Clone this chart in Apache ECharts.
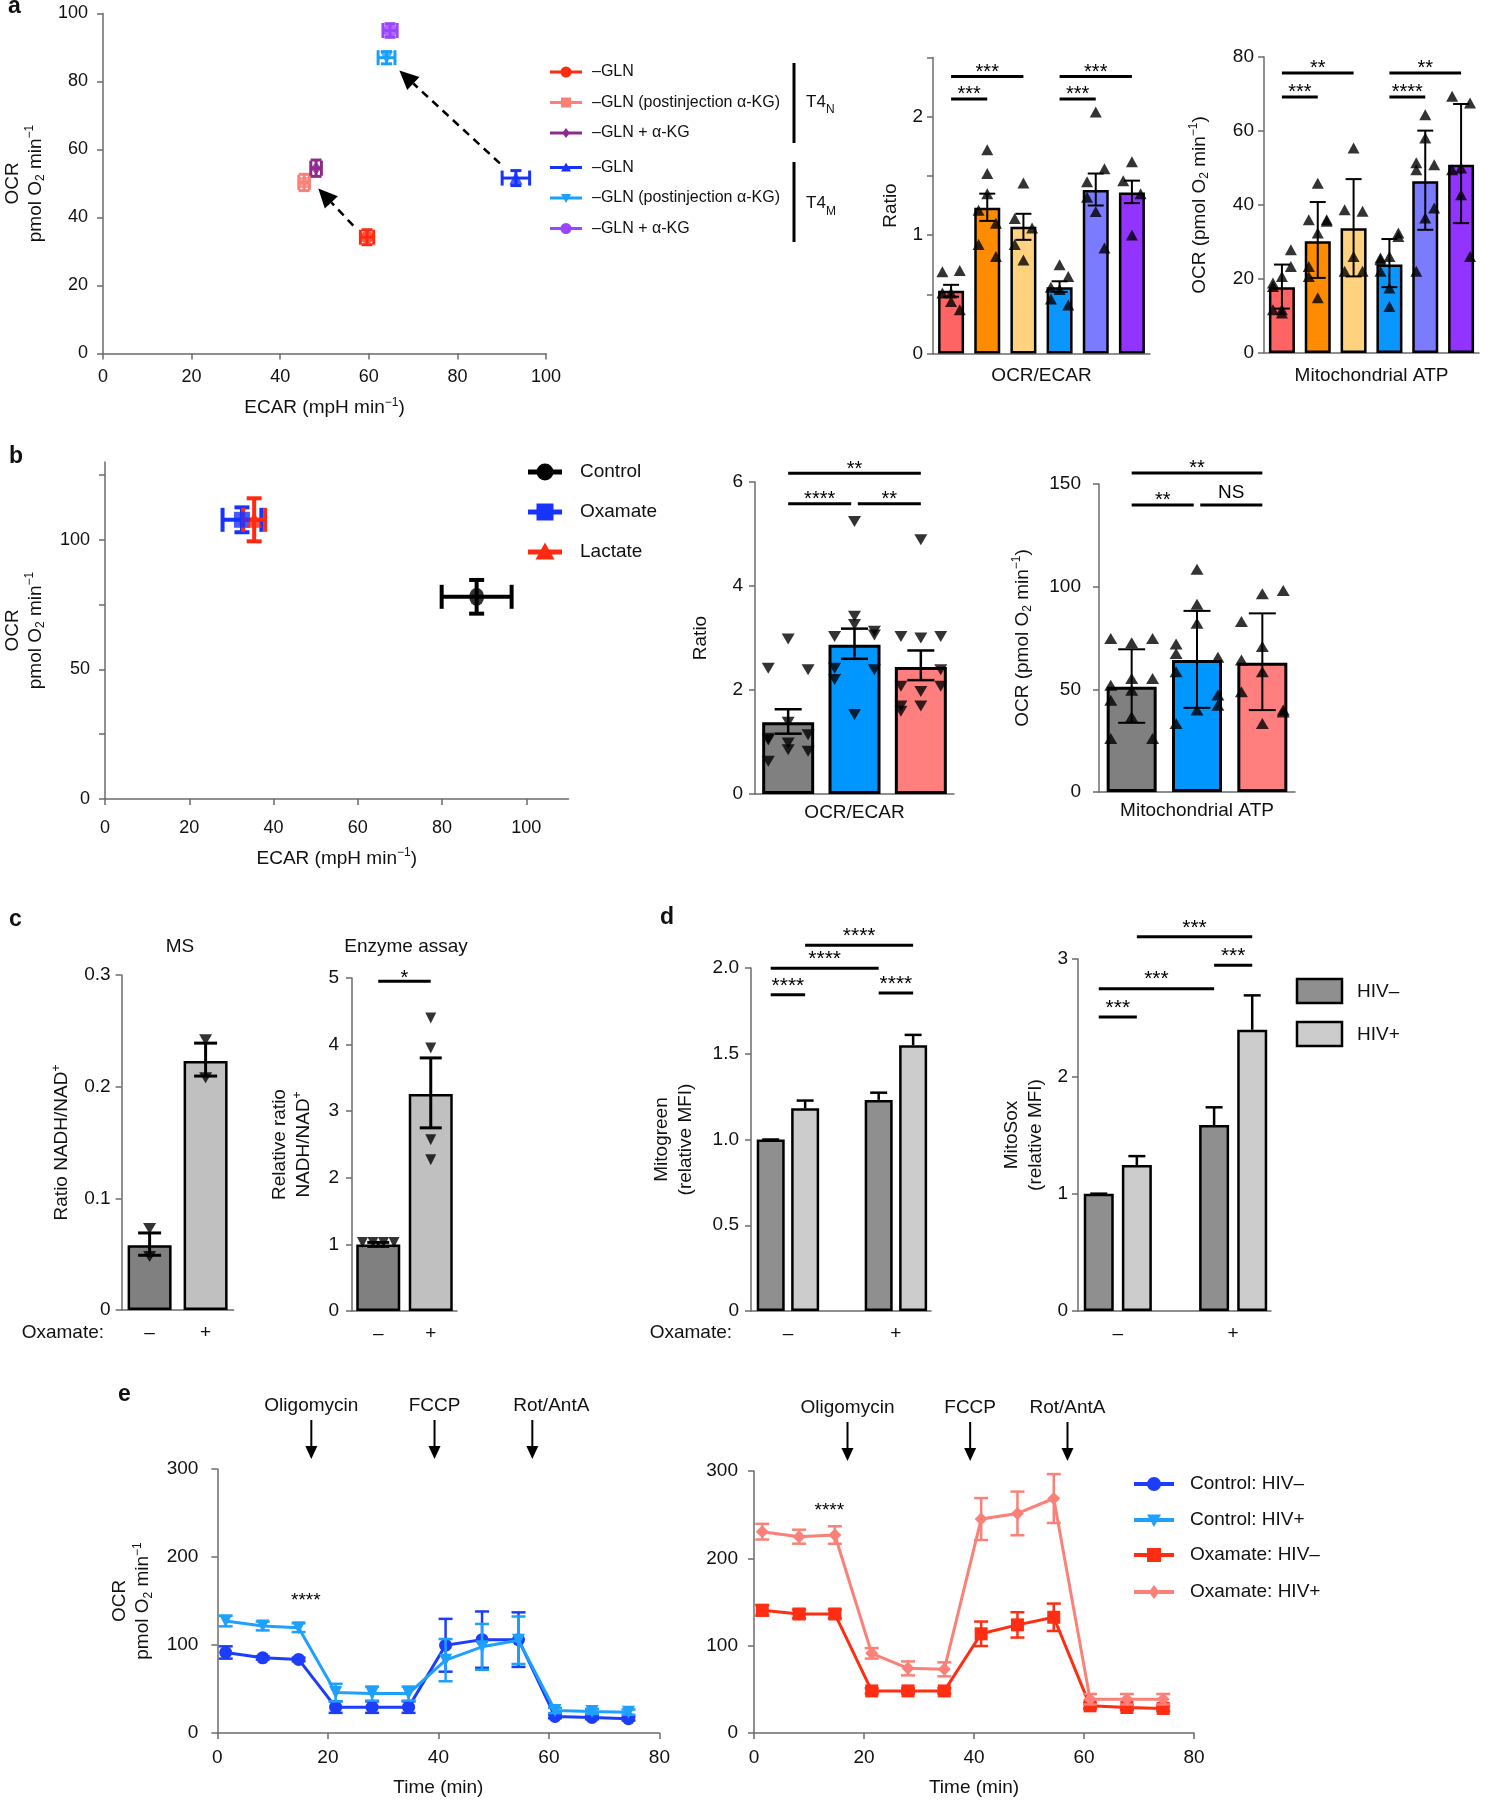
<!DOCTYPE html>
<html><head><meta charset="utf-8">
<script src="https://cdn.jsdelivr.net/npm/echarts@6/dist/echarts.min.js"></script>
<style>html,body{margin:0;padding:0;background:#fff}#c{width:1489px;height:1800px}</style>
</head><body><div id="c"></div>
<script>
// ================= DATA =================
// Panel a – scatter (OCR vs ECAR)
const aGroupLabels = ['–GLN','–GLN (postinjection α-KG)','–GLN + α-KG','–GLN','–GLN (postinjection α-KG)','–GLN + α-KG'];
const aCellTypes = ['T4', 'N', 'T4', 'M'];
const aEcar    = [59.6, 45.4, 48.1, 93.2, 64.0, 64.8];
const aEcarErr = [1.5, 1.2, 1.2, 3.1, 1.9, 1.6];
const aOcr     = [34.2, 50.3, 54.5, 51.6, 87.0, 95.0];
const aOcrErr  = [2.2, 2.4, 2.4, 2.2, 1.8, 2.0];
const aShiftFrom = [[56.5, 37.6], [89.6, 55.9]];
const aShiftTo   = [[48.6, 48.5], [66.9, 83.2]];
// Panel a – OCR/ECAR ratio bars
const aRatioMean = [0.53, 1.23, 1.07, 0.56, 1.38, 1.36];
const aRatioLow  = [0.48, 1.12, 0.96, 0.52, 1.25, 1.27];
const aRatioHigh = [0.58, 1.35, 1.18, 0.61, 1.52, 1.46];
const aRatioPoints = [[0.51,0.69,0.70,0.44,0.51,0.37],[1.72,1.21,1.10,1.52,0.92,0.82,1.35],[1.44,1.14,1.06,0.79,0.92],[0.75,0.56,0.65,0.54,0.46,0.41],[2.04,1.45,1.56,1.20,1.32,0.89],[1.62,1.46,1.35,1.00]];
const aRatioSig = [[0,2,2.34,'***'],[0,1,2.15,'***'],[3,5,2.34,'***'],[3,4,2.15,'***']];
// Panel a – Mitochondrial ATP bars
const aAtpMean = [17.8, 30.2, 33.7, 23.9, 46.4, 50.9];
const aAtpLow  = [12.0, 20.3, 20.7, 17.8, 33.3, 35.1];
const aAtpHigh = [23.9, 40.8, 47.0, 30.8, 60.1, 67.3];
const aAtpPoints = [[20.7,18.9,27.9,11.7,18.0,23.4,10.8,11.7],[45.9,36.0,35.6,32.4,20.7,36.0,14.9,23.4],[55.4,38.7,38.3,26.1,22.1,22.1],[26.1,25.7,31.5,17.6,25.2,32.4,12.6,22.1],[64.4,51.4,50.9,58.1,22.1,39.2,36.5,49.5],[50.0,69.4,67.6,42.8,49.5,26.1]];
const aAtpSig = [[0,2,75.7,'**'],[0,1,69.2,'***'],[3,5,75.7,'**'],[3,4,69.2,'****']];

// Panel b – scatter
const bGroups   = ['Control', 'Oxamate', 'Lactate'];
const bEcar     = [88.2, 32.5, 35.4];
const bEcarErr  = [8.3, 4.6, 2.6];
const bOcr      = [78.0, 107.7, 107.7];
const bOcrErr   = [6.5, 4.8, 8.3];
// Panel b – bars
const bRatioMean = [1.38, 2.87, 2.44];
const bRatioLow  = [1.16, 2.60, 2.19];
const bRatioHigh = [1.63, 3.18, 2.76];
const bRatioPoints = [[2.98,2.42,2.39,1.38,1.07,1.14,0.85,1.04,0.82,0.98,0.63],[5.24,3.03,3.13,3.42,2.42,3.06,3.26,2.20,2.39,1.53],[4.89,3.03,3.03,3.00,2.07,2.39,1.97,1.69,2.07,1.69,1.59]];
const bRatioSig = [[0,2,6.17,'**'],[0,0.95,5.58,'****'],[1.05,2,5.58,'**']];
const bAtpMean = [51.2, 64.3, 63.0];
const bAtpLow  = [33.7, 41.0, 39.9];
const bAtpHigh = [69.5, 88.2, 87.0];
const bAtpPoints = [[72.7,74.8,74.8,55.3,52.0,55.3,49.6,44.7,26.0,36.6,26.0],[108.5,72.1,65.6,91.4,67.5,42.3,82.2,58.6,47.2,39.9,33.4],[96.5,83.0,98.1,70.8,64.3,39.9,58.6,48.8,39.0,33.4]];
const bAtpSig = [[0,2,155.4,'**'],[0,0.95,139.8,'**'],[1.05,2,139.8,'NS']];

// Panel c
const cOxamate = ['–', '+'];
const cMsMean = [0.058, 0.223];
const cMsLow  = [0.049, 0.2095];
const cMsHigh = [0.069, 0.239];
const cMsPoints = [[0.073, 0.048], [0.242, 0.208]];
const cEnzMean = [1.0, 3.26];
const cEnzLow  = [0.97, 2.75];
const cEnzHigh = [1.03, 3.80];
const cEnzPoints = [[1.03, 1.03, 1.03, 1.03], [4.40, 3.95, 2.57, 2.27]];
const cEnzSig = [[0, 1, 4.95, '*']];

// Panel d
const dOxamate = ['–', '+'];
const dSeries = ['HIV–', 'HIV+'];
const dMitoNeg = [1.0, 1.231];
const dMitoNegErr = [0, 0.042];
const dMitoPos = [1.182, 1.55];
const dMitoPosErr = [0.045, 0.06];
const dMitoSig = [[0,1,1.844,'****'],[2,3,1.854,'****'],[0,2,1.998,'****'],[1,3,2.132,'****']];
const dSoxNeg = [1.0, 1.585];
const dSoxNegErr = [0, 0.151];
const dSoxPos = [1.244, 2.397];
const dSoxPosErr = [0.076, 0.293];
const dSoxSig = [[0,1,2.505,'***'],[0,2,2.747,'***'],[2,3,2.946,'***'],[1,3,3.19,'***']];

// Panel e
const eTime = [1.5, 8.2, 14.7, 21.4, 28.0, 34.6, 41.3, 47.9, 54.5, 61.1, 67.8, 74.4];
const eCtlNeg    = [91.5, 85.4, 83.6, 29.4, 29.4, 29.4, 99.7, 106.1, 106.1, 18.8, 17.7, 16.2];
const eCtlNegErr = [7, 2, 2, 6.5, 6.5, 6.5, 30, 32, 31, 2, 2, 2];
const eCtlPos    = [127.2, 121.6, 119.7, 45.9, 44.8, 44.8, 82.8, 97.9, 105.4, 25.6, 24.5, 23.7];
const eCtlPosErr = [6, 5, 5, 10, 8, 8, 24, 26, 27, 3, 3, 3];
const eOxNeg     = [140.5, 136.3, 136.3, 48.2, 48.2, 48.2, 113.6, 123.8, 132.5, 31.1, 29.2, 28.1];
const eOxNegErr  = [6, 5, 5, 3, 3, 3, 14, 14.5, 15.7, 3, 3, 3];
const eOxPos     = [230.5, 224.8, 226.7, 91.2, 74.0, 72.9, 245.0, 251.4, 268.5, 38.7, 38.7, 38.7];
const eOxPosErr  = [9, 8, 10, 6, 8, 8, 24, 25, 28, 6, 6, 6];
const eSeriesNames = ['Control: HIV–', 'Control: HIV+', 'Oxamate: HIV–', 'Oxamate: HIV+'];
const eInjNames = ['Oligomycin', 'FCCP', 'Rot/AntA'];
const eInjTimes = [17, 39.3, 57];
const eSigLeft  = [[16, 150, '****']];
const eSigRight = [[13.7, 255, '****']];

// ================= STYLE =================
const FONT = "'Liberation Sans', Arial, Helvetica, sans-serif";
const AXC = '#6b6b6b';
const aColors = ['#ff2a12', '#fa8078', '#8e2a8c', '#1833ff', '#1a9fff', '#9a45ff'];
const aSymbols = ['circle', 'rect', 'diamond', 'triangle', 'triangle-down', 'circle'];
const aSymSize = [13, 11, 12, 13, 13, 14];
const aBarColors = ['#ff6464', '#ff8c00', '#ffd280', '#0a96ff', '#7b7bff', '#9333ff'];
const bColors = ['#000000', '#1833ff', '#ff2a12'];
const bSymbols = ['circle', 'rect', 'triangle'];
const bBarColors = ['#808080', '#0096ff', '#ff7f7f'];
const cBarColors = ['#808080', '#c0c0c0'];
const dBarColors = ['#8f8f8f', '#cccccc'];
const eColors = ['#1c3dfb', '#1ea0ff', '#ff2d12', '#fa8078'];
const eSymbols = ['circle', 'triangle-down', 'rect', 'diamond'];
const eLabelShiftLeft = [0, 0, 19];   // label offsets (px) above the injection arrows, left chart
const eLabelShiftRight = [0, 0, 0];

// ================= HELPERS =================
function merge(a, b) {
  const o = Object.assign({}, a);
  for (const k in b) {
    if (b[k] && typeof b[k] === 'object' && !Array.isArray(b[k]) && a[k] && typeof a[k] === 'object' && !Array.isArray(a[k])) o[k] = merge(a[k], b[k]);
    else o[k] = b[k];
  }
  return o;
}
function rich(fs) {
  const s = Math.round(fs * 0.62);
  return { sup: {fontSize: s, fontFamily: FONT, color: '#111', verticalAlign: 'top', lineHeight: s},
           sub: {fontSize: s, fontFamily: FONT, color: '#111', verticalAlign: 'bottom', lineHeight: s} };
}
function mkAxis(o, fs) {
  fs = fs || 19;
  return merge({
    type: 'value', splitLine: {show: false},
    axisLine: {show: true, onZero: false, lineStyle: {color: AXC, width: 1.5}},
    axisTick: {show: true, length: 6, lineStyle: {color: AXC, width: 1.5}},
    axisLabel: {color: '#111', fontSize: fs, fontFamily: FONT, margin: 10},
    nameLocation: 'middle',
    nameTextStyle: {color: '#111', fontSize: 19, fontFamily: FONT, lineHeight: 23, rich: rich(19)}
  }, o);
}
const grid = [], xAxis = [], yAxis = [], series = [], elements = [];
function addPanel(g, xa, ya) {
  const gi = grid.length;
  grid.push(g);
  xa.gridIndex = gi; ya.gridIndex = gi;
  xAxis.push(xa); yAxis.push(ya);
  return gi;
}
function symShape(type, cx, cy, s, color) {
  const h = s / 2;
  const st = {fill: color};
  if (type === 'circle') return {type: 'circle', shape: {cx, cy, r: h}, style: st, z: 100};
  if (type === 'rect') return {type: 'rect', shape: {x: cx - h, y: cy - h, width: s, height: s}, style: st, z: 100};
  if (type === 'diamond') return {type: 'polygon', shape: {points: [[cx, cy - h], [cx + h * 0.75, cy], [cx, cy + h], [cx - h * 0.75, cy]]}, style: st, z: 100};
  if (type === 'triangle') return {type: 'polygon', shape: {points: [[cx, cy - h], [cx + h, cy + h * 0.8], [cx - h, cy + h * 0.8]]}, style: st, z: 100};
  return {type: 'polygon', shape: {points: [[cx, cy + h], [cx + h, cy - h * 0.8], [cx - h, cy - h * 0.8]]}, style: st, z: 100};
}
function txt(text, x, y, o) {
  o = o || {};
  const al = o.align || 'left', va = o.va || 'middle';
  return {type: 'text', x, y, z: 100, style: {text, fill: o.color || '#111', fontSize: o.fs || 19, fontFamily: FONT,
    fontWeight: o.fw || 'normal', align: al, verticalAlign: va, textAlign: al, textVerticalAlign: va}};
}
function line(x1, y1, x2, y2, color, w) {
  return {type: 'line', z: 100, shape: {x1, y1, x2, y2}, style: {stroke: color || '#000', lineWidth: w || 3}};
}
function symbolOpt(type) {
  return type === 'triangle-down' ? {symbol: 'triangle', symbolRotate: 180} : {symbol: type, symbolRotate: 0};
}
function barSeries(gi, means, colors, bw, border) {
  return {type: 'bar', xAxisIndex: gi, yAxisIndex: gi, barWidth: bw, silent: true, z: 2,
    data: means.map((v, i) => ({value: [i, v], itemStyle: {color: colors[i], borderColor: '#000', borderWidth: border}}))};
}
function errSeries(gi, xs, lows, highs, o) {
  return {type: 'custom', xAxisIndex: gi, yAxisIndex: gi, z: o.z || 4, silent: true, clip: false,
    data: xs.map((x, i) => [x, lows[i], highs[i]]),
    encode: {x: 0, y: [1, 2]},
    renderItem(params, api) {
      const x = api.value(0);
      const t = api.coord([x, api.value(2)]), b = api.coord([x, api.value(1)]);
      const px = t[0] + (o.dx || 0), cw = o.cap / 2;
      const st = {stroke: o.color || '#000', lineWidth: o.width || 2};
      const ch = [{type: 'line', shape: {x1: px, y1: t[1], x2: px, y2: b[1]}, style: st},
                  {type: 'line', shape: {x1: px - cw, y1: t[1], x2: px + cw, y2: t[1]}, style: st}];
      if (!o.upperOnly) ch.push({type: 'line', shape: {x1: px - cw, y1: b[1], x2: px + cw, y2: b[1]}, style: st});
      return {type: 'group', children: ch};
    }};
}
function jitter(k, n, mode, s) {
  if (mode === 'center') return 0;
  if (mode === 'even') return n > 1 ? -s + 2 * s * k / (n - 1) : 0;
  return [0, -1, 1][k % 3] * s;
}
function pointsSeries(gi, groups, sym, size, modes, s) {
  const data = [];
  groups.forEach((vals, i) => vals.forEach((v, k) => data.push([i + jitter(k, vals.length, modes[i], s), v])));
  return Object.assign({type: 'scatter', xAxisIndex: gi, yAxisIndex: gi, symbolSize: size, silent: true, z: 6,
    itemStyle: {color: '#000'}, data}, symbolOpt(sym));
}
function bracketSeries(gi, sig, o) {
  return {type: 'custom', xAxisIndex: gi, yAxisIndex: gi, z: 5, silent: true, clip: false,
    data: sig.map(s => [s[0], s[1], s[2]]),
    encode: {x: [0, 1], y: 2},
    renderItem(params, api) {
      const y = api.value(2);
      const xOf = v => o.xOf ? o.xOf(v, y, api) : api.coord([v, y])[0];
      const x1 = xOf(api.value(0)), x2 = xOf(api.value(1));
      const py = api.coord([0, y])[1];
      const label = sig[params.dataIndex][3];
      const ns = label === 'NS';
      const fs = ns ? 19 : (o.fs || 19);
      return {type: 'group', children: [
        {type: 'line', shape: {x1: x1 - (o.ext || 0), y1: py, x2: x2 + (o.ext || 0), y2: py}, style: {stroke: '#000', lineWidth: o.lw || 3}},
        {type: 'text', x: (x1 + x2) / 2, y: py - (ns ? 12 : (o.off || 4)),
         style: {text: label, fill: '#000', fontSize: fs, fontFamily: FONT, align: 'center', verticalAlign: 'middle', textAlign: 'center', textVerticalAlign: 'middle'}}
      ]};
    }};
}
function xyErrSeries(gi, xs, ys, exs, eys, colors, o) {
  return {type: 'custom', xAxisIndex: gi, yAxisIndex: gi, z: 4, silent: true, clip: false,
    data: xs.map((x, i) => [x, ys[i], exs[i], eys[i]]),
    encode: {x: 0, y: 1},
    renderItem(params, api) {
      const x = api.value(0), y = api.value(1), ex = api.value(2), ey = api.value(3);
      const l = api.coord([x - ex, y]), r = api.coord([x + ex, y]);
      const t = api.coord([x, y + ey]), b = api.coord([x, y - ey]);
      const st = {stroke: colors[params.dataIndex], lineWidth: o.width};
      const hx = o.capX / 2, hy = o.capY / 2;
      return {type: 'group', children: [
        {type: 'line', shape: {x1: l[0], y1: l[1], x2: r[0], y2: r[1]}, style: st},
        {type: 'line', shape: {x1: l[0], y1: l[1] - hx, x2: l[0], y2: l[1] + hx}, style: st},
        {type: 'line', shape: {x1: r[0], y1: r[1] - hx, x2: r[0], y2: r[1] + hx}, style: st},
        {type: 'line', shape: {x1: t[0], y1: t[1], x2: b[0], y2: b[1]}, style: st},
        {type: 'line', shape: {x1: t[0] - hy, y1: t[1], x2: t[0] + hy, y2: t[1]}, style: st},
        {type: 'line', shape: {x1: b[0] - hy, y1: b[1], x2: b[0] + hy, y2: b[1]}, style: st}
      ]};
    }};
}
function arrowSeries(gi, from, to) {
  return {type: 'custom', xAxisIndex: gi, yAxisIndex: gi, z: 7, silent: true, clip: false,
    data: from.map((f, i) => [f[0], f[1], to[i][0], to[i][1]]),
    encode: {x: [0, 2], y: [1, 3]},
    renderItem(params, api) {
      const p1 = api.coord([api.value(0), api.value(1)]), p2 = api.coord([api.value(2), api.value(3)]);
      const dx = p2[0] - p1[0], dy = p2[1] - p1[1], L = Math.hypot(dx, dy);
      const ux = dx / L, uy = dy / L, hl = 19, hw = 9;
      const bx = p2[0] - ux * hl, by = p2[1] - uy * hl;
      return {type: 'group', children: [
        {type: 'line', shape: {x1: p1[0], y1: p1[1], x2: bx, y2: by}, style: {stroke: '#000', lineWidth: 2.5, lineDash: [8, 6]}},
        {type: 'polygon', shape: {points: [[p2[0], p2[1]], [bx - uy * hw, by + ux * hw], [bx + uy * hw, by - ux * hw]]}, style: {fill: '#000'}}
      ]};
    }};
}
function injSeries(gi, yTop, shifts) {
  return {type: 'custom', xAxisIndex: gi, yAxisIndex: gi, z: 7, silent: true, clip: false,
    data: eInjTimes.map(t => [t, yTop]), encode: {x: 0, y: 1},
    renderItem(params, api) {
      const p = api.coord([api.value(0), api.value(1)]);
      const x = p[0], top = p[1];
      return {type: 'group', children: [
        {type: 'text', x: x + shifts[params.dataIndex], y: top - 63, style: {text: eInjNames[params.dataIndex], fill: '#111', fontSize: 19, fontFamily: FONT, align: 'center', verticalAlign: 'middle', textAlign: 'center', textVerticalAlign: 'middle'}},
        {type: 'line', shape: {x1: x, y1: top - 49, x2: x, y2: top - 20}, style: {stroke: '#000', lineWidth: 2}},
        {type: 'polygon', shape: {points: [[x, top - 10], [x - 6, top - 23], [x + 6, top - 23]]}, style: {fill: '#000'}}
      ]};
    }};
}
function textSeries(gi, items, fs) {
  return {type: 'custom', xAxisIndex: gi, yAxisIndex: gi, z: 7, silent: true, clip: false,
    data: items.map(s => [s[0], s[1]]), encode: {x: 0, y: 1},
    renderItem(params, api) {
      const p = api.coord([api.value(0), api.value(1)]);
      return {type: 'text', x: p[0], y: p[1], style: {text: items[params.dataIndex][2], fill: '#000', fontSize: fs, fontFamily: FONT, align: 'center', verticalAlign: 'middle', textAlign: 'center', textVerticalAlign: 'middle'}};
    }};
}
const noX = {axisTick: {show: false}, axisLabel: {show: false}};

// ================= PANEL a =================
const gAS = addPanel({left: 103, top: 13.5, width: 443, height: 340},
  mkAxis({min: 0, max: 100, interval: 20, name: 'ECAR (mpH min{sup|−1})', nameGap: 43, axisLabel: {margin: 15}}, 18),
  mkAxis({min: 0, max: 100, interval: 20, name: 'OCR\npmol O{sub|2} min{sup|−1}', nameGap: 56, axisLabel: {margin: 15}}, 18));
series.push(xyErrSeries(gAS, aEcar, aOcr, aEcarErr, aOcrErr, aColors, {capX: 15, capY: 11, width: 3}));
aEcar.forEach((x, i) => series.push(Object.assign({type: 'scatter', name: aGroupLabels[i], xAxisIndex: gAS, yAxisIndex: gAS,
  data: [[x, aOcr[i]]], symbolSize: aSymSize[i], itemStyle: {color: aColors[i]}, z: 6, silent: true}, symbolOpt(aSymbols[i]))));
series.push(arrowSeries(gAS, aShiftFrom, aShiftTo));

const gA1 = addPanel({left: 933, top: 57.5, width: 217, height: 296},
  mkAxis(Object.assign({min: -0.5, max: 5.5, name: 'OCR/ECAR', nameGap: 11}, noX)),
  mkAxis({min: 0, max: 2.5, interval: 0.5, name: 'Ratio', nameGap: 31,
    axisLabel: {margin: 10, formatter: v => (Math.abs(v - Math.round(v)) < 1e-6 ? String(Math.round(v)) : '')}}));
series.push(barSeries(gA1, aRatioMean, aBarColors, 26, 2.5));
series.push(errSeries(gA1, aRatioMean.map((_, i) => i), aRatioLow, aRatioHigh, {cap: 16, width: 2}));
series.push(pointsSeries(gA1, aRatioPoints, 'triangle', [12, 11], aRatioPoints.map(() => 'cycle'), 0.24));
series.push(bracketSeries(gA1, aRatioSig, {lw: 3, fs: 20, off: 4}));

const gA2 = addPanel({left: 1264, top: 57, width: 215, height: 296},
  mkAxis(Object.assign({min: -0.5, max: 5.5, name: 'Mitochondrial ATP', nameGap: 11}, noX)),
  mkAxis({min: 0, max: 80, interval: 20, name: 'OCR (pmol O{sub|2} min{sup|−1})', nameGap: 53, axisLabel: {margin: 10}}));
series.push(barSeries(gA2, aAtpMean, aBarColors, 26, 2.5));
series.push(errSeries(gA2, aAtpMean.map((_, i) => i), aAtpLow, aAtpHigh, {cap: 16, width: 2}));
series.push(pointsSeries(gA2, aAtpPoints, 'triangle', [12, 11], aAtpPoints.map(() => 'cycle'), 0.25));
series.push(bracketSeries(gA2, aAtpSig, {lw: 3, fs: 20, off: 4}));

// legend a
{
  const ys = [72, 102.5, 133, 167.5, 198, 228.5];
  aGroupLabels.forEach((lab, i) => {
    elements.push(line(550, ys[i], 582, ys[i], aColors[i], 3));
    elements.push(symShape(aSymbols[i], 566, ys[i], aSymbols[i] === 'circle' ? 11 : 10, aColors[i]));
    elements.push(txt(lab, 592, ys[i], {fs: 16}));
  });
  elements.push(line(794, 63, 794, 143, '#000', 3));
  elements.push(line(794, 162, 794, 242, '#000', 3));
  elements.push(txt(aCellTypes[0], 806, 102, {fs: 17}));
  elements.push(txt(aCellTypes[1], 826, 110, {fs: 12}));
  elements.push(txt(aCellTypes[2], 806, 203, {fs: 17}));
  elements.push(txt(aCellTypes[3], 826, 212, {fs: 12}));
}

// ================= PANEL b =================
const gBS = addPanel({left: 101.5, top: 462, width: 467, height: 337},
  mkAxis({min: 0, max: 110, interval: 20, name: 'ECAR (mpH min{sup|−1})', nameGap: 48,
    axisTick: {customValues: [0, 20, 40, 60, 80, 100]},
    axisLabel: {margin: 20, customValues: [0, 20, 40, 60, 80, 100], formatter: v => (v > 100 ? '' : String(v))}}, 18),
  mkAxis({min: 0, max: 130, interval: 25, name: 'OCR\npmol O{sub|2} min{sup|−1}', nameGap: 58,
    axisTick: {customValues: [0, 25, 50, 75, 100, 125]},
    axisLabel: {margin: 15, customValues: [0, 50, 100], formatter: v => (v % 50 === 0 && v <= 100 ? String(v) : '')}}, 18));
series.push(xyErrSeries(gBS, bEcar, bOcr, bEcarErr, bOcrErr, bColors, {capX: 24, capY: 15, width: 4}));
bEcar.forEach((x, i) => series.push({type: 'scatter', name: bGroups[i], xAxisIndex: gBS, yAxisIndex: gBS,
  data: [[x, bOcr[i]]], symbol: bSymbols[i], symbolSize: bSymbols[i] === 'circle' ? [15, 18] : 16,
  itemStyle: {color: bColors[i]}, z: 6, silent: true}));
{
  const ys = [472, 512, 552];
  bGroups.forEach((g, i) => {
    elements.push(line(528, ys[i], 562, ys[i], bColors[i], 5));
    elements.push(symShape(bSymbols[i], 545, ys[i], i === 0 ? 17 : (i === 1 ? 17 : 19), bColors[i]));
    elements.push(txt(g, 580, ys[i], {fs: 19}));
  });
}

const gB1 = addPanel({left: 755, top: 482, width: 199, height: 312},
  mkAxis(Object.assign({min: -0.5, max: 2.5, name: 'OCR/ECAR', nameGap: 7}, noX)),
  mkAxis({min: 0, max: 6, interval: 2, name: 'Ratio', nameGap: 43, axisLabel: {margin: 12}}));
series.push(barSeries(gB1, bRatioMean, bBarColors, 52, 3));
series.push(errSeries(gB1, [0, 1, 2], bRatioLow, bRatioHigh, {cap: 27, width: 2.5}));
series.push(pointsSeries(gB1, bRatioPoints, 'triangle-down', [13, 11], ['cycle', 'cycle', 'cycle'], 0.3));
series.push(bracketSeries(gB1, bRatioSig, {lw: 3, fs: 20, off: 4}));

const gB2 = addPanel({left: 1099, top: 484, width: 196, height: 308},
  mkAxis(Object.assign({min: -0.5, max: 2.5, name: 'Mitochondrial ATP', nameGap: 7}, noX)),
  mkAxis({min: 0, max: 150, interval: 50, name: 'OCR (pmol O{sub|2} min{sup|−1})', nameGap: 65, axisLabel: {margin: 18}}));
series.push(barSeries(gB2, bAtpMean, bBarColors, 50, 3));
series.push(errSeries(gB2, [0, 1, 2], bAtpLow, bAtpHigh, {cap: 27, width: 2}));
series.push(pointsSeries(gB2, bAtpPoints, 'triangle', [13, 11], ['cycle', 'cycle', 'cycle'], 0.32));
series.push(bracketSeries(gB2, bAtpSig, {lw: 3, fs: 20, off: 4}));

// ================= PANEL c =================
const cX = (lbls) => mkAxis({min: -0.5, max: 1.5, axisTick: {show: false},
  axisLabel: {customValues: [0, 1], margin: 13, fontSize: 19, formatter: v => lbls[Math.round(v)] || ''}});
const gC1 = addPanel({left: 121.6, top: 975, width: 112, height: 335},
  cX(cOxamate),
  mkAxis({min: 0, max: 0.3, interval: 0.1, name: 'Ratio NADH/NAD{sup|+}', nameGap: 48, axisLabel: {margin: 11, formatter: v => (v === 0 ? '0' : v.toFixed(1))}}));
series.push(barSeries(gC1, cMsMean, cBarColors, 44, 2.5));
series.push(errSeries(gC1, [0, 1], cMsLow, cMsHigh, {cap: 23, width: 3}));
series.push(pointsSeries(gC1, cMsPoints, 'triangle-down', [13, 11], ['center', 'center'], 0));

const gC2 = addPanel({left: 352, top: 978, width: 105, height: 333},
  cX(cOxamate),
  mkAxis({min: 0, max: 5, interval: 1, name: 'Relative ratio\nNADH/NAD{sup|+}', nameGap: 36, nameTextStyle: {lineHeight: 24}, axisLabel: {margin: 13}}));
series.push(barSeries(gC2, cEnzMean, cBarColors, 44, 2.5));
series.push(errSeries(gC2, [0, 1], cEnzLow, cEnzHigh, {cap: 22, width: 3}));
series.push(pointsSeries(gC2, cEnzPoints, 'triangle-down', 11, ['even', 'center'], 0.3));
series.push(bracketSeries(gC2, cEnzSig, {lw: 3, fs: 20, off: 3}));
elements.push(txt('MS', 180, 947, {align: 'center', fs: 19}));
elements.push(txt('Enzyme assay', 406, 947, {align: 'center', fs: 19}));
elements.push(txt('Oxamate:', 104, 1333, {align: 'right', fs: 19}));

// ================= PANEL d =================
function dPanel(g, xmin, xmax, yo, neg, negErr, pos, posErr, sig, bw, gapPct) {
  const gi = addPanel(g,
    mkAxis({min: xmin, max: xmax, axisTick: {show: false},
      axisLabel: {customValues: [0, 1], margin: 13, fontSize: 19, formatter: v => dOxamate[Math.round(v)] || ''}}),
    yo);
  const mk = (vals, color, name) => ({type: 'bar', name, xAxisIndex: gi, yAxisIndex: gi, barWidth: bw, barGap: gapPct, silent: true, z: 2,
    itemStyle: {color, borderColor: '#000', borderWidth: 2.5}, data: vals.map((v, i) => [i, v])});
  series.push(mk(neg, dBarColors[0], dSeries[0]));
  series.push(mk(pos, dBarColors[1], dSeries[1]));
  const half = bw * (1 + parseFloat(gapPct) / 100) / 2;
  const ix = neg.map((_, i) => i);
  series.push(errSeries(gi, ix, neg, neg.map((v, i) => v + negErr[i]), {cap: 17, width: 2.5, upperOnly: true, dx: -half}));
  series.push(errSeries(gi, ix, pos, pos.map((v, i) => v + posErr[i]), {cap: 17, width: 2.5, upperOnly: true, dx: half}));
  series.push(bracketSeries(gi, sig, {lw: 3, fs: 21, off: 9,
    xOf: (b, y, api) => api.coord([Math.floor(b / 2), y])[0] + (b % 2 ? 1 : -1) * half}));
  return gi;
}
dPanel({left: 751, top: 968, width: 180, height: 343}, -0.342, 1.325,
  mkAxis({min: 0, max: 2, interval: 0.5, name: 'Mitogreen\n(relative MFI)', nameGap: 53,
    nameTextStyle: {lineHeight: 24},
    axisLabel: {margin: 12, formatter: v => (v === 0 ? '0' : v.toFixed(1))}}),
  dMitoNeg, dMitoNegErr, dMitoPos, dMitoPosErr, dMitoSig, 28, '23%');
dPanel({left: 1078, top: 959, width: 193, height: 352}, -0.345, 1.328,
  mkAxis({min: 0, max: 3, interval: 1, name: 'MitoSox\n(relative MFI)', nameGap: 30,
    nameTextStyle: {lineHeight: 24},
    axisLabel: {margin: 10}}),
  dSoxNeg, dSoxNegErr, dSoxPos, dSoxPosErr, dSoxSig, 30, '27%');
elements.push(txt('Oxamate:', 732, 1333, {align: 'right', fs: 19}));
[[979, 0], [1022, 1]].forEach(([y, i]) => {
  elements.push({type: 'rect', z: 100, shape: {x: 1297, y, width: 45, height: 24}, style: {fill: dBarColors[i], stroke: '#000', lineWidth: 2.5}});
  elements.push(txt(dSeries[i], 1357, y + 13, {fs: 19}));
});

// ================= PANEL e =================
function eLine(gi, vals, errs, k) {
  series.push(errSeries(gi, eTime, vals.map((v, i) => v - errs[i]), vals.map((v, i) => v + errs[i]), {cap: 14, width: 2.5, color: eColors[k], z: 3 + k * 0.1}));
  series.push(Object.assign({type: 'line', name: eSeriesNames[k], xAxisIndex: gi, yAxisIndex: gi, silent: true, z: 3 + k * 0.1,
    data: eTime.map((t, i) => [t, vals[i]]), symbolSize: 13,
    lineStyle: {color: eColors[k], width: 3}, itemStyle: {color: eColors[k]}}, symbolOpt(eSymbols[k])));
}
const eX = () => mkAxis({min: 0, max: 80, interval: 20, name: 'Time (min)', nameGap: 43, axisLabel: {margin: 15}});
const gE1 = addPanel({left: 217.4, top: 1469, width: 442, height: 266}, eX(),
  mkAxis({min: 0, max: 300, interval: 100, name: 'OCR\npmol O{sub|2} min{sup|−1}', nameGap: 63, axisLabel: {margin: 19}}));
eLine(gE1, eCtlPos, eCtlPosErr, 1);
eLine(gE1, eCtlNeg, eCtlNegErr, 0);
series.push(injSeries(gE1, 300, eLabelShiftLeft));
series.push(textSeries(gE1, eSigLeft, 19));
const gE2 = addPanel({left: 754, top: 1471, width: 440, height: 263}, eX(),
  mkAxis({min: 0, max: 300, interval: 100, axisLabel: {margin: 16}}));
eLine(gE2, eOxNeg, eOxNegErr, 2);
eLine(gE2, eOxPos, eOxPosErr, 3);
series.push(injSeries(gE2, 300, eLabelShiftRight));
series.push(textSeries(gE2, eSigRight, 19));
{
  const ys = [1484, 1520, 1555, 1592];
  eSeriesNames.forEach((n, k) => {
    elements.push(line(1134, ys[k], 1174, ys[k], eColors[k], 4));
    elements.push(symShape(eSymbols[k], 1154, ys[k], 14, eColors[k]));
    elements.push(txt(n, 1190, ys[k], {fs: 19}));
  });
}

// panel letters
[['a', 8, 7], ['b', 9, 457], ['c', 9, 920], ['d', 660, 918], ['e', 118, 1395]].forEach(([l, x, y]) =>
  elements.push(txt(l, x, y, {fs: 23, fw: 'bold'})));

const chart = echarts.init(document.getElementById('c'), null, {renderer: 'canvas', width: 1489, height: 1800});
chart.setOption({animation: false, backgroundColor: '#fff', grid, xAxis, yAxis, series, graphic: {elements}});
</script></body></html>
